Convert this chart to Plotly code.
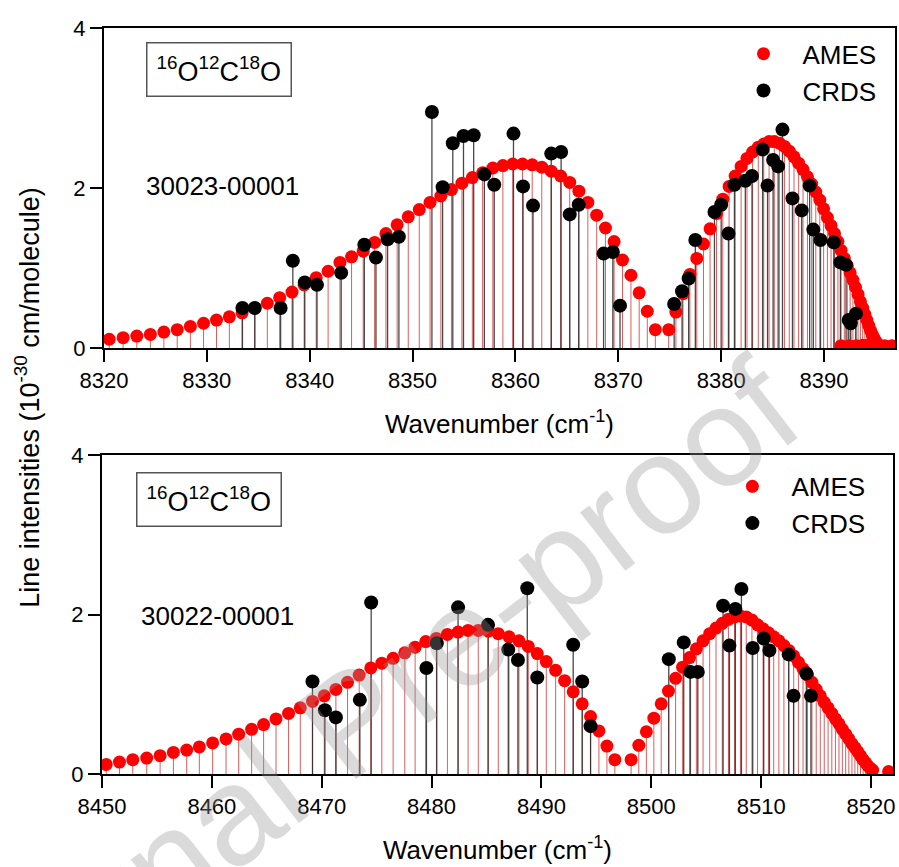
import plotly.graph_objects as go

# ---------------- data ----------------
# Top panel: 30023-00001 band
top_ames_x = [8320.51, 8321.86, 8323.19, 8324.51, 8325.82, 8327.12, 8328.40, 8329.68, 8330.94, 8332.19,
              8333.43, 8334.66, 8335.88, 8337.08, 8338.28, 8339.46, 8340.63, 8341.79, 8342.94, 8344.07,
              8345.20, 8346.31, 8347.41, 8348.50, 8349.58, 8350.65, 8351.70, 8352.75, 8353.78, 8354.80,
              8355.81, 8356.81, 8357.80, 8358.78, 8359.74, 8360.69, 8361.63, 8362.56, 8363.48, 8364.39,
              8365.28, 8366.17, 8367.04, 8367.90, 8368.75, 8369.59, 8370.41, 8371.23, 8372.03, 8372.82,
              8373.60,
              8374.90, 8375.60, 8376.29, 8376.96, 8377.63, 8378.28, 8378.92, 8379.55, 8380.16, 8380.77,
              8381.36, 8381.94, 8382.51, 8383.06, 8383.61, 8384.14, 8384.66, 8385.17, 8385.66, 8386.15,
              8386.62, 8387.08, 8387.53, 8387.96, 8388.39, 8388.80, 8389.20, 8389.59, 8389.96, 8390.33,
              8390.68, 8391.02, 8391.35, 8391.66, 8391.97, 8392.26, 8392.54, 8392.81, 8393.06, 8393.31,
              8393.54, 8393.76, 8393.97, 8394.16, 8394.35, 8394.52, 8394.68, 8394.83, 8394.96, 8395.09,
              8395.20,
              8395.25, 8395.15, 8394.95, 8394.65, 8394.25, 8393.75, 8393.15, 8392.45, 8391.65, 8395.90,
              8396.60]
top_ames_y = [0.11, 0.13, 0.15, 0.17, 0.20, 0.23, 0.27, 0.31, 0.35, 0.39,
              0.44, 0.50, 0.56, 0.63, 0.70, 0.79, 0.88, 0.96, 1.07, 1.14,
              1.21, 1.32, 1.43, 1.54, 1.64, 1.73, 1.82, 1.90, 1.98, 2.06,
              2.13, 2.19, 2.25, 2.28, 2.30, 2.30, 2.29, 2.26, 2.21, 2.15,
              2.07, 1.96, 1.82, 1.66, 1.50, 1.33, 1.10, 0.91, 0.69, 0.46,
              0.23,
              0.23, 0.45, 0.68, 0.92, 1.12, 1.30, 1.49, 1.68, 1.86, 2.02,
              2.15, 2.27, 2.37, 2.45, 2.51, 2.55, 2.58, 2.58, 2.56, 2.52,
              2.46, 2.39, 2.31, 2.23, 2.14, 2.05, 1.95, 1.85, 1.74, 1.63,
              1.53, 1.43, 1.33, 1.22, 1.12, 1.03, 0.94, 0.85, 0.76, 0.67,
              0.58, 0.50, 0.42, 0.35, 0.28, 0.22, 0.17, 0.13, 0.10, 0.07,
              0.05,
              0.04, 0.04, 0.04, 0.04, 0.035, 0.035, 0.03, 0.03, 0.03, 0.03,
              0.03]

top_crds_x = [8333.46, 8334.66, 8337.17, 8338.36, 8339.52, 8340.71, 8343.06, 8345.31, 8346.44, 8347.57,
              8348.67, 8351.88, 8352.92, 8353.91, 8354.95, 8355.94, 8356.98, 8357.94, 8359.81, 8360.74,
              8361.71, 8363.48, 8364.44, 8365.28, 8366.15, 8368.57, 8369.47, 8370.17, 8375.43, 8376.20,
              8376.84, 8377.49, 8379.35, 8380.00, 8380.71, 8381.29, 8382.35, 8383.00, 8384.03, 8384.51,
              8385.05, 8385.54, 8385.96, 8386.93, 8387.83, 8388.60, 8388.96, 8389.66, 8390.95, 8391.59,
              8392.14, 8392.40, 8392.60, 8393.11]
top_crds_y = [0.50, 0.50, 0.50, 1.09, 0.82, 0.79, 0.94, 1.29, 1.13, 1.36,
              1.39, 2.95, 2.01, 2.56, 2.65, 2.66, 2.17, 2.04, 2.68, 2.02,
              1.78, 2.43, 2.45, 1.67, 1.79, 1.18, 1.20, 0.53, 0.55, 0.71,
              0.87, 1.35, 1.70, 1.79, 1.43, 2.04, 2.09, 2.15, 2.48, 2.03,
              2.35, 2.27, 2.73, 1.87, 1.72, 2.03, 1.48, 1.35, 1.32, 1.07,
              1.04, 0.35, 0.31, 0.43]

# Bottom panel: 30022-00001 band
bot_ames_x = [8450.38, 8451.59, 8452.80, 8454.07, 8455.29, 8456.50, 8457.71, 8458.86, 8460.07, 8461.29,
              8462.44, 8463.62, 8464.71, 8465.84, 8466.98, 8468.05, 8469.16, 8470.23, 8471.29, 8472.35,
              8473.41, 8474.47, 8475.47, 8476.50, 8477.56, 8478.50, 8479.47, 8480.44, 8481.44, 8482.41,
              8483.32, 8484.25, 8485.16, 8486.07, 8487.05, 8487.95, 8488.80, 8489.62, 8490.44, 8491.29,
              8492.11, 8492.89, 8493.71, 8494.47, 8495.23, 8495.96, 8496.68,
              8498.16, 8498.86, 8499.55, 8500.23, 8500.90, 8501.56, 8502.21, 8502.85, 8503.48, 8504.10,
              8504.71, 8505.31, 8505.89, 8506.46, 8507.02, 8507.57, 8508.11, 8508.64, 8509.16, 8509.67,
              8510.17, 8510.66, 8511.14, 8511.61, 8512.07, 8512.52, 8512.96, 8513.39, 8513.81, 8514.22,
              8514.62, 8515.01, 8515.38, 8515.74, 8516.09, 8516.43, 8516.76, 8517.08, 8517.39, 8517.69,
              8517.98, 8518.26, 8518.53, 8518.79, 8519.04, 8519.28, 8519.51, 8519.73, 8519.94, 8520.14,
              8521.60]
bot_ames_y = [0.12, 0.15, 0.18, 0.20, 0.23, 0.27, 0.30, 0.34, 0.39, 0.44,
              0.50, 0.56, 0.62, 0.69, 0.76, 0.83, 0.91, 0.98, 1.06, 1.15,
              1.24, 1.33, 1.39, 1.45, 1.52, 1.59, 1.66, 1.70, 1.75, 1.78,
              1.80, 1.80, 1.79, 1.76, 1.72, 1.67, 1.60, 1.51, 1.41, 1.30,
              1.17, 1.03, 0.88, 0.72, 0.54, 0.35, 0.18,
              0.18, 0.36, 0.53, 0.70, 0.88, 1.04, 1.20, 1.34, 1.46, 1.57,
              1.67, 1.76, 1.83, 1.89, 1.94, 1.97, 1.98, 1.97, 1.93, 1.87,
              1.82, 1.77, 1.72, 1.67, 1.61, 1.55, 1.48, 1.40, 1.32, 1.24,
              1.15, 1.06, 0.98, 0.90, 0.83, 0.76, 0.69, 0.63, 0.56, 0.50,
              0.44, 0.38, 0.33, 0.28, 0.23, 0.18, 0.14, 0.10, 0.07, 0.05,
              0.03]

bot_crds_x = [8469.16, 8470.29, 8471.29, 8473.47, 8474.50, 8479.53, 8480.47, 8482.41, 8485.14, 8486.98,
              8487.86, 8488.71, 8489.62, 8492.89, 8493.71, 8494.47, 8501.59, 8502.95, 8503.56, 8504.23,
              8506.53, 8507.11, 8507.65, 8508.20, 8509.23, 8510.23, 8510.75, 8512.50, 8512.95, 8514.11,
              8514.53]
bot_crds_y = [1.16, 0.80, 0.71, 0.93, 2.15, 1.33, 1.64, 2.09, 1.87, 1.56,
              1.43, 2.33, 1.21, 1.62, 1.16, 0.60, 1.44, 1.65, 1.28, 1.28,
              2.11, 1.61, 2.07, 2.32, 1.58, 1.70, 1.55, 1.50, 0.98, 1.26,
              0.98]

band_labels = ["30023-00001", "30022-00001"]
molecule_label = "<sup>16</sup>O<sup>12</sup>C<sup>18</sup>O"
series_names = ["AMES", "CRDS"]
x_ranges = [[8320, 8396.9], [8450, 8522]]
y_ticks = [0, 2, 4]

FONT = "Liberation Sans, Arial, sans-serif"
RED = "#ff0000"
BLACK = "#000000"


def stems(xs, ys):
    sx, sy = [], []
    for x, y in zip(xs, ys):
        sx += [x, x, None]
        sy += [0, y, None]
    return sx, sy


fig = go.Figure()

panels = [
    ("x", "y", "legend", top_ames_x, top_ames_y, top_crds_x, top_crds_y),
    ("x2", "y2", "legend2", bot_ames_x, bot_ames_y, bot_crds_x, bot_crds_y),
]

for xa, ya, leg, ax, ay, cx, cy in panels:
    sx, sy = stems(ax, ay)
    fig.add_trace(go.Scatter(x=sx, y=sy, mode="lines", xaxis=xa, yaxis=ya,
                             line=dict(color="rgba(205,40,40,0.75)", width=1),
                             showlegend=False, hoverinfo="skip"))
    sx, sy = stems(cx, cy)
    fig.add_trace(go.Scatter(x=sx, y=sy, mode="lines", xaxis=xa, yaxis=ya,
                             line=dict(color="rgba(40,40,40,0.85)", width=1.3),
                             showlegend=False, hoverinfo="skip"))
    fig.add_trace(go.Scatter(x=ax, y=ay, mode="markers", xaxis=xa, yaxis=ya,
                             name=series_names[0], legend=leg,
                             marker=dict(color=RED, size=13, line=dict(width=0))))
    fig.add_trace(go.Scatter(x=cx, y=cy, mode="markers", xaxis=xa, yaxis=ya,
                             name=series_names[1], legend=leg,
                             marker=dict(color=BLACK, size=14, line=dict(width=0))))

axis_common = dict(showline=True, linewidth=2, linecolor="black", mirror=True,
                   ticks="outside", ticklen=12, tickwidth=1.5, tickcolor="black",
                   showgrid=False, zeroline=False,
                   tickfont=dict(family=FONT, size=22, color="black"))

xtitle = dict(text="Wavenumber (cm<sup>-1</sup>)", font=dict(family=FONT, size=26, color="black"),
              standoff=22)

fig.update_layout(
    width=899, height=867,
    margin=dict(l=102, r=2, t=28, b=93),
    paper_bgcolor="white", plot_bgcolor="white",
    font=dict(family=FONT, color="black"),
    xaxis=dict(domain=[0.0025, 1.0], range=x_ranges[0], anchor="y", tick0=8320, dtick=10,
               title=xtitle, **axis_common),
    yaxis=dict(domain=[0.571, 1.0], range=[0, 4], anchor="x", tickvals=y_ticks, **axis_common),
    xaxis2=dict(domain=[0.0, 0.9975], range=x_ranges[1], anchor="y2", tick0=8450, dtick=10,
                title=xtitle, **axis_common),
    yaxis2=dict(domain=[0.0, 0.4276], range=[0, 4], anchor="x2", tickvals=y_ticks, **axis_common),
    legend=dict(x=0.785, y=0.997, xanchor="left", yanchor="top", bgcolor="rgba(0,0,0,0)",
                font=dict(family=FONT, size=26, color="black"), itemwidth=68, tracegroupgap=0),
    legend2=dict(x=0.771, y=0.417, xanchor="left", yanchor="top", bgcolor="rgba(0,0,0,0)",
                 font=dict(family=FONT, size=26, color="black"), itemwidth=68, tracegroupgap=0),
)

annotations = [
    dict(text="Line intensities (10<sup>-30</sup> cm/molecule)", xref="paper", yref="paper",
         x=-0.094, y=0.505, textangle=-90, showarrow=False, xanchor="center", yanchor="middle",
         font=dict(family=FONT, size=27, color="black")),
    dict(text=band_labels[0], xref="x domain", yref="y domain", x=0.05, y=0.506,
         xanchor="left", yanchor="middle", showarrow=False,
         font=dict(family=FONT, size=26, color="black")),
    dict(text=band_labels[1], xref="x2 domain", yref="y2 domain", x=0.047, y=0.495,
         xanchor="left", yanchor="middle", showarrow=False,
         font=dict(family=FONT, size=26, color="black")),
    dict(text=molecule_label, xref="x domain", yref="y domain", x=0.146, y=0.869,
         xanchor="center", yanchor="middle", showarrow=False, bordercolor="#555555",
         borderwidth=1.5, borderpad=9, font=dict(family=FONT, size=27, color="black")),
    dict(text=molecule_label, xref="x2 domain", yref="y2 domain", x=0.135, y=0.862,
         xanchor="center", yanchor="middle", showarrow=False, bordercolor="#555555",
         borderwidth=1.5, borderpad=9, font=dict(family=FONT, size=27, color="black")),
    dict(text="Journal Pre-proof", xref="paper", yref="paper", x=0.314, y=0.071,
         textangle=-37.7, showarrow=False, xanchor="center", yanchor="middle",
         font=dict(family=FONT, size=140, color="rgba(150,150,150,0.35)")),
]
fig.update_layout(annotations=annotations)

fig.write_html("out.html")
